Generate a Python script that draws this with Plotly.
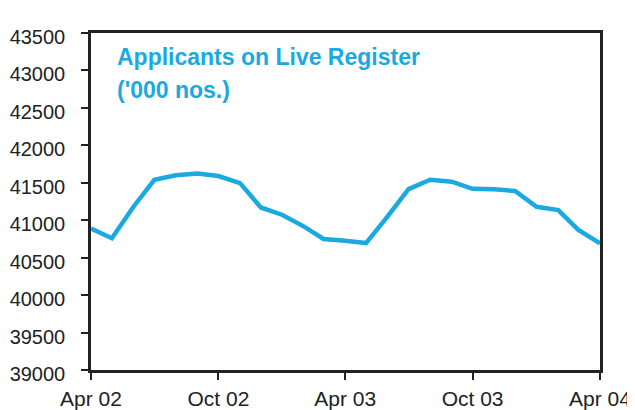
import plotly.graph_objects as go

months = ["2002-04-01", "2002-05-01", "2002-06-01", "2002-07-01", "2002-08-01", "2002-09-01",
          "2002-10-01", "2002-11-01", "2002-12-01", "2003-01-01", "2003-02-01", "2003-03-01",
          "2003-04-01", "2003-05-01", "2003-06-01", "2003-07-01", "2003-08-01", "2003-09-01",
          "2003-10-01", "2003-11-01", "2003-12-01", "2004-01-01", "2004-02-01", "2004-03-01",
          "2004-04-01"]
applicants = [40890, 40760, 41180, 41540, 41600, 41625, 41590, 41495, 41170, 41070, 40915, 40750,
              40725, 40695, 41050, 41415, 41540, 41515, 41420, 41415, 41390, 41180, 41135, 40870,
              40690]

x_tickvals = ["2002-04-01", "2002-10-01", "2003-04-01", "2003-10-01", "2004-04-01"]
x_ticktext = ["Apr 02", "Oct 02", "Apr 03", "Oct 03", "Apr 04"]
y_tickvals = list(range(39000, 43501, 500))
y_ticktext = [str(v) for v in y_tickvals]

title_line1 = "Applicants on Live Register"
title_line2 = "('000 nos.)"

blue = "#1BA9E1"
axis_col = "#222222"

fig = go.Figure()
fig.add_trace(go.Scatter(x=months, y=applicants, mode="lines",
                         line=dict(color=blue, width=4.5), showlegend=False))

# page body adds an 8px offset, so the figure is sized 627x402
fig.update_layout(
    width=627, height=402,
    margin=dict(l=83, r=35, t=25, b=40),
    paper_bgcolor="white", plot_bgcolor="white",
    font=dict(family="Arial, Liberation Sans", size=20, color="#222222"),
    xaxis=dict(type="date", range=["2002-04-01", "2004-04-01"],
               tickvals=x_tickvals, ticktext=x_ticktext, automargin=False,
               showgrid=False, zeroline=False,
               showline=True, linecolor=axis_col, linewidth=2.5, mirror=True,
               ticks="outside", ticklen=7, tickwidth=2, tickcolor=axis_col,
               tickfont=dict(size=21), ticklabelstandoff=1),
    yaxis=dict(range=[39000, 43500], tickvals=y_tickvals, ticktext=y_ticktext,
               automargin=False,
               showgrid=False, zeroline=False,
               showline=True, linecolor=axis_col, linewidth=2.5, mirror=True,
               ticks="outside", ticklen=7, tickwidth=2, tickcolor=axis_col,
               tickfont=dict(size=20), ticklabelstandoff=12, ticklabelshift=4),
)

fig.add_annotation(text="<b>" + title_line1 + "</b>", xref="paper", yref="paper",
                   x=0.048, y=0.972, xanchor="left", yanchor="top", showarrow=False,
                   font=dict(family="Arial, Liberation Sans", size=23, color=blue))
fig.add_annotation(text="<b>" + title_line2 + "</b>", xref="paper", yref="paper",
                   x=0.048, y=0.875, xanchor="left", yanchor="top", showarrow=False,
                   font=dict(family="Arial, Liberation Sans", size=23, color=blue))

fig.write_html("out.html")
